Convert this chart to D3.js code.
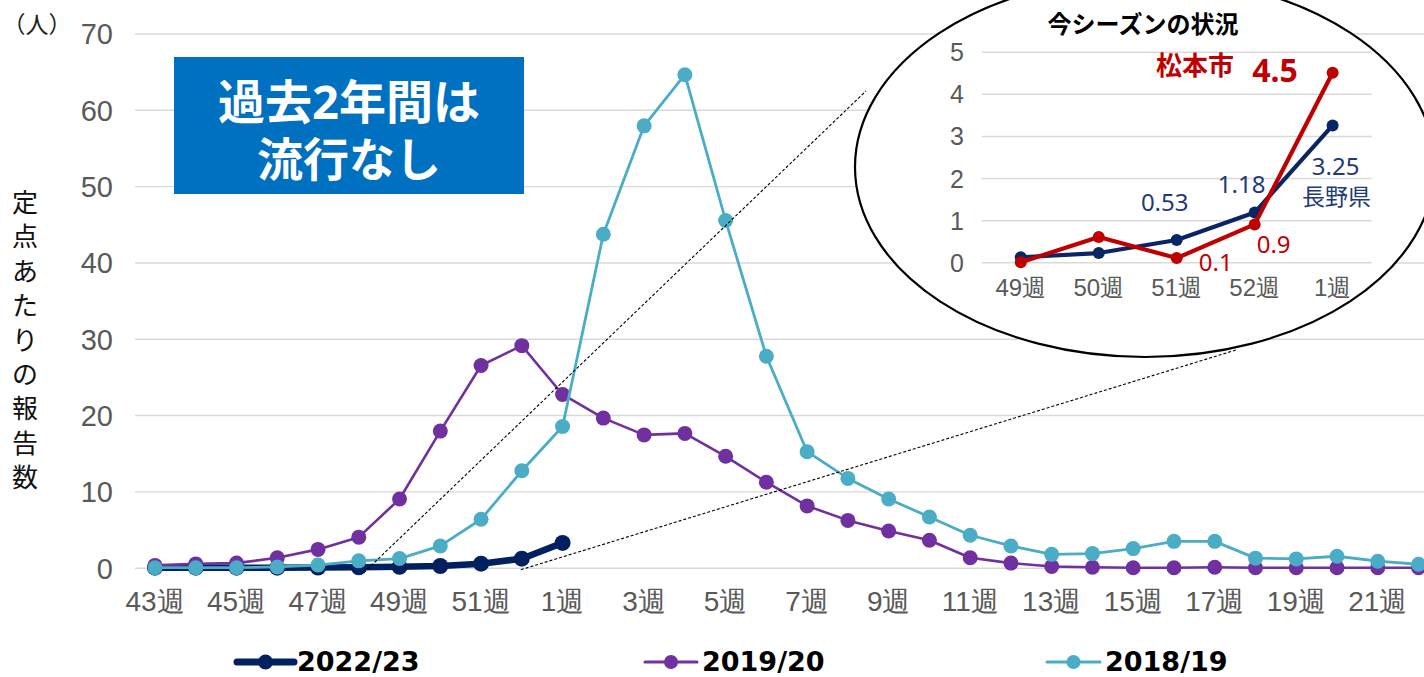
<!DOCTYPE html>
<html><head><meta charset="utf-8">
<script src="https://cdn.jsdelivr.net/npm/d3@7"></script>
<style>
html,body{margin:0;padding:0;background:#fff;}
svg{display:block;font-family:"Noto Sans","Noto Sans CJK JP",sans-serif;}
</style></head>
<body>
<svg id="c" width="1424" height="677"></svg>
<script>
// ---- data ----
const categories = ["43週","44週","45週","46週","47週","48週","49週","50週","51週","52週",
  "1週","2週","3週","4週","5週","6週","7週","8週","9週","10週","11週","12週","13週","14週","15週","16週","17週","18週","19週","20週","21週","22週"];
const yTicks = [0,10,20,30,40,50,60,70];
const s2022 = [0,0,0,0,0.03,0.05,0.12,0.22,0.53,1.18,3.25];
const s2019 = [0.3,0.5,0.6,1.3,2.4,4.0,9.0,17.9,26.5,29.1,
  22.7,19.6,17.4,17.6,14.6,11.2,8.1,6.2,4.8,3.6,1.3,0.6,0.15,0.05,0,0,0.05,0,0,0,0,0];
const s2018 = [0,0,0,0.1,0.35,0.9,1.2,2.85,6.35,12.7,
  18.5,43.7,57.9,64.6,45.5,27.7,15.2,11.7,9.0,6.65,4.25,2.85,1.75,1.85,2.5,3.45,3.45,1.25,1.15,1.5,0.85,0.45];
const seriesNames = ["2022/23","2019/20","2018/19"];
const insetCats = ["49週","50週","51週","52週","1週"];
const insetTicks = [0,1,2,3,4,5];
const matsumoto = [0,0.6,0.1,0.9,4.5];
const nagano = [0.12,0.22,0.53,1.18,3.25];

// ---- styles ----
const C_NAVY="#002060", C_PURPLE="#7030A0", C_CYAN="#4BACC6", C_RED="#C00000", C_GRID="#D9D9D9", C_TICK="#595959";

const svg = d3.select("#c");

// ---- main scales ----
const x = d3.scaleBand().domain(categories).range([134.6, 134.6+32*40.76]);
const cx = d => x(d)+x.bandwidth()/2;
const y = d3.scaleLinear().domain([0,70]).range([567.7,33.5]);

// gridlines + y labels
const yAx = svg.append("g").attr("transform","translate(135,0)")
  .call(d3.axisLeft(y).tickValues(yTicks).tickSize(-(1424-135)).tickPadding(22));
yAx.select(".domain").remove();
yAx.selectAll(".tick line").attr("stroke",C_GRID).attr("stroke-width",1.4);
yAx.selectAll(".tick text").attr("fill",C_TICK).attr("font-size",29).attr("dy","0.36em");

const xAx = svg.append("g").attr("transform","translate(0,567.7)")
  .call(d3.axisBottom(x).tickSize(0).tickPadding(23).tickFormat((d,i)=> i%2===0 ? d : ""));
xAx.select(".domain").remove();
xAx.selectAll(".tick text").attr("fill",C_TICK).attr("font-size",28);

// series
function drawSeries(vals,color,lw,r){
  const pts = vals.map((v,i)=>[cx(categories[i]), y(v)]);
  svg.append("path").attr("d",d3.line()(pts)).attr("fill","none")
    .attr("stroke",color).attr("stroke-width",lw).attr("stroke-linejoin","round").attr("stroke-linecap","round");
  svg.append("g").selectAll("circle").data(pts).join("circle")
    .attr("cx",d=>d[0]).attr("cy",d=>d[1]).attr("r",r).attr("fill",color);
}
drawSeries(s2022,C_NAVY,6.5,8);
drawSeries(s2019,C_PURPLE,2.6,7.5);
drawSeries(s2018,C_CYAN,2.8,7.5);

// dashed zoom lines
svg.append("line").attr("x1",cx("48週")+5).attr("y1",y(0)+5).attr("x2",866).attr("y2",91)
  .attr("stroke","#000").attr("stroke-width",1.1).attr("stroke-dasharray","3,2");
svg.append("line").attr("x1",cx("52週")-1).attr("y1",y(0)+2).attr("x2",1236).attr("y2",350)
  .attr("stroke","#000").attr("stroke-width",1.1).attr("stroke-dasharray","3,2");

// blue box
svg.append("rect").attr("x",174).attr("y",57).attr("width",350).attr("height",137).attr("fill","#0070C0");
svg.append("text").attr("x",349).attr("y",101).attr("text-anchor","middle").attr("dominant-baseline","central")
  .attr("fill","#fff").attr("font-weight","bold").attr("font-size",47).text("過去2年間は");
svg.append("text").attr("x",349).attr("y",158).attr("text-anchor","middle").attr("dominant-baseline","central")
  .attr("fill","#fff").attr("font-weight","bold").attr("font-size",46).text("流行なし");

// axis title
svg.append("text").attr("x",37).attr("y",24).attr("text-anchor","middle").attr("dominant-baseline","central")
  .attr("font-size",23).attr("fill","#222").text("（人）");
const yTitle = "定点あたりの報告数".split("");
svg.append("g").selectAll("text").data(yTitle).join("text")
  .attr("x",25).attr("y",(d,i)=>202+i*34.4).attr("text-anchor","middle").attr("dominant-baseline","central")
  .attr("font-size",26).attr("fill","#111").text(d=>d);

// legend
const legend = [
  {name:seriesNames[0], color:C_NAVY, lw:7, r:7.5, x1:237, x2:294, tx:297},
  {name:seriesNames[1], color:C_PURPLE, lw:3, r:7, x1:645, x2:697, tx:702},
  {name:seriesNames[2], color:C_CYAN, lw:3, r:7, x1:1047, x2:1100, tx:1105}
];
legend.forEach(l=>{
  svg.append("line").attr("x1",l.x1).attr("x2",l.x2).attr("y1",662).attr("y2",662)
    .attr("stroke",l.color).attr("stroke-width",l.lw).attr("stroke-linecap","round");
  svg.append("circle").attr("cx",(l.x1+l.x2)/2).attr("cy",662).attr("r",l.r).attr("fill",l.color);
  svg.append("text").attr("x",l.tx).attr("y",661).attr("dominant-baseline","central")
    .attr("font-family","'DejaVu Sans',sans-serif")
    .attr("font-size",27).attr("font-weight","bold").attr("fill","#000").text(l.name);
});

// ---- inset ----
svg.append("ellipse").attr("cx",1145).attr("cy",167).attr("rx",290).attr("ry",190)
  .attr("fill","#fff").attr("stroke","#000").attr("stroke-width",2.2);

const ix = d3.scaleBand().domain(insetCats).range([981.8,1371.6]);
const icx = d => ix(d)+ix.bandwidth()/2;
const iy = d3.scaleLinear().domain([0,5]).range([262.3,51.7]);

const iyAx = svg.append("g").attr("transform","translate(981.8,0)")
  .call(d3.axisLeft(iy).tickValues(insetTicks).tickSize(-(1371.6-981.8)).tickPadding(18).tickFormat(d3.format("d")));
iyAx.select(".domain").remove();
iyAx.selectAll(".tick line").attr("stroke",C_GRID).attr("stroke-width",1.4);
iyAx.selectAll(".tick text").attr("fill",C_TICK).attr("font-size",25).attr("dy","0.36em");

const ixAx = svg.append("g").attr("transform","translate(0,262.3)")
  .call(d3.axisBottom(ix).tickSize(0).tickPadding(17));
ixAx.select(".domain").remove();
ixAx.selectAll(".tick text").attr("fill",C_TICK).attr("font-size",24);

function drawInset(vals,color){
  const pts = vals.map((v,i)=>[icx(insetCats[i]), iy(v)]);
  svg.append("path").attr("d",d3.line()(pts)).attr("fill","none")
    .attr("stroke",color).attr("stroke-width",4.2).attr("stroke-linejoin","round");
  svg.append("g").selectAll("circle").data(pts).join("circle")
    .attr("cx",d=>d[0]).attr("cy",d=>d[1]).attr("r",6).attr("fill",color);
}
drawInset(nagano,"#0A2565");
drawInset(matsumoto,C_RED);

svg.append("text").attr("x",1143).attr("y",23).attr("text-anchor","middle").attr("dominant-baseline","central")
  .attr("font-size",24).attr("font-weight","bold").attr("fill","#000").text("今シーズンの状況");

function lbl(t,xx,yy,color,size,weight){
  svg.append("text").attr("x",xx).attr("y",yy).attr("text-anchor","middle").attr("dominant-baseline","central")
    .attr("font-size",size).attr("font-weight",weight||"normal").attr("fill",color).text(t);
}
const NT="#1F3A78";
lbl(nagano[2].toFixed(2), icx("51週")-12, iy(nagano[2])-38, NT, 24);
lbl(nagano[3].toFixed(2), icx("52週")-13, iy(nagano[3])-29, NT, 24);
lbl(nagano[4].toFixed(2), icx("1週")+3, iy(nagano[4])+40, NT, 24);
lbl("長野県", icx("1週")+4, iy(nagano[4])+71, NT, 23);
lbl(String(matsumoto[2]), icx("51週")+39, iy(matsumoto[2])+3, C_RED, 24);
lbl(String(matsumoto[3]), icx("52週")+19, iy(matsumoto[3])+19, C_RED, 24);
lbl("松本市", 1195, 65, C_RED, 26, "bold");
lbl(String(matsumoto[4]), 1275, 69, C_RED, 32, "bold");
</script>
</body></html>
